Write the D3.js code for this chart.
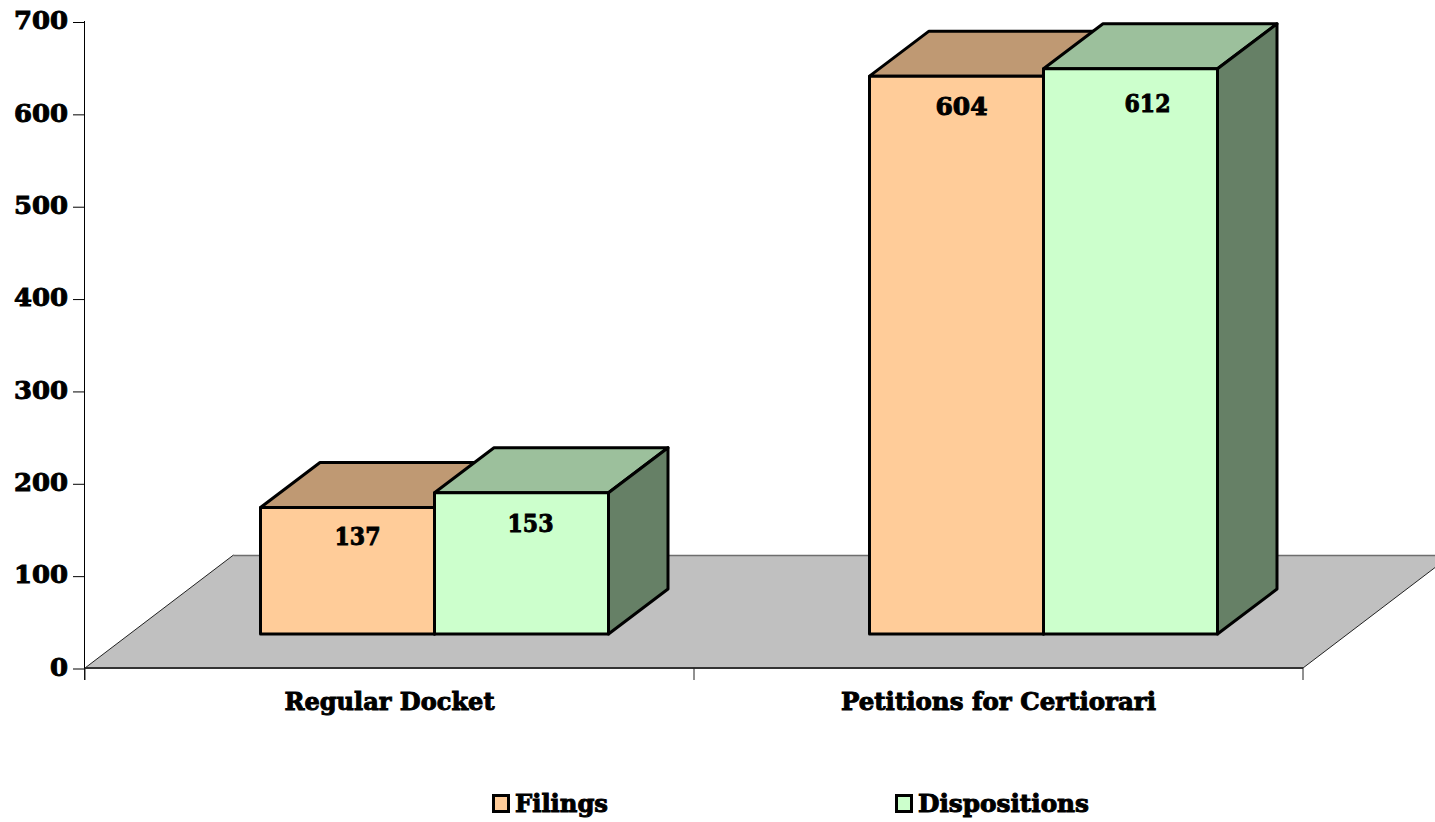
<!DOCTYPE html>
<html><head><meta charset="utf-8">
<script src="https://cdn.jsdelivr.net/npm/d3@7/dist/d3.min.js"></script>
<style>html,body{margin:0;padding:0;background:#fff;overflow:hidden}svg{display:block}
text{font-family:"DejaVu Serif",serif;font-weight:700;fill:#000;stroke:#000;stroke-width:0.95px;paint-order:stroke}</style></head>
<body><svg id="c" width="1435" height="822"></svg>
<script>
const categories = ["Regular Docket", "Petitions for Certiorari"];
const seriesNames = ["Filings", "Dispositions"];
const filings = [137, 604];
const dispositions = [153, 612];
const yTicks = [0, 100, 200, 300, 400, 500, 600, 700];
const seriesValues = [filings, dispositions];
const faceColors = ["#FFCC99", "#CCFFCC"];
const topColors = ["#BF9973", "#9CC09C"];
const sideColors = ["#BF9973", "#668066"];

const svg = d3.select("#c");
const y = d3.scaleLinear().domain([0, 700]).range([668.5, 22]);
const x0 = d3.scaleBand().domain(categories).range([85, 1303]);
const barW = 174;
const x1 = d3.scaleBand().domain([0, 1]).range([-barW, barW]);
const floorDX = 148.5, floorDY = 113;
const frontDX = 45, frontDY = 34.5;
const depthDX = 59.5, depthDY = 45;
const line = d3.line();

// floor
svg.append("path").attr("d", line([[85,668],[85+floorDX,668-floorDY],[1303+floorDX,668-floorDY],[1303,668]])+"Z").attr("fill","#C0C0C0");
svg.append("line").attr("x1",85+floorDX).attr("y1",555.5).attr("x2",1435).attr("y2",555.5).attr("stroke","#6e6e6e").attr("stroke-width",1.5);
[85,1303].forEach(px=>svg.append("line").attr("x1",px).attr("y1",668).attr("x2",px+floorDX).attr("y2",668-floorDY).attr("stroke","#222").attr("stroke-width",1));

// axes
const yAxis = d3.axisLeft(y).tickValues(yTicks).tickSize(12).tickPadding(4).tickFormat(d3.format("d"));
const gy = svg.append("g").attr("transform","translate(85,0)").call(yAxis);
gy.select(".domain").attr("d","M-0.5,21V680").attr("stroke","#000");
gy.selectAll(".tick line").attr("stroke","#000");
gy.selectAll(".tick text").attr("font-size",24).attr("dy","0.28em").attr("x",-17).attr("textLength",54).attr("lengthAdjust","spacingAndGlyphs")
  .each(function(d){ if(d===0) d3.select(this).attr("textLength",18); });

svg.append("line").attr("x1",85).attr("x2",1303).attr("y1",668).attr("y2",668).attr("stroke","#333").attr("stroke-width",2);
[85,694,1303].forEach(px=>svg.append("line").attr("x1",px).attr("x2",px).attr("y1",668).attr("y2",680).attr("stroke","#222"));
const catWidths = [210, 315];
categories.forEach((c,i)=>svg.append("text").attr("x",x0(c)+x0.bandwidth()/2).attr("y",710).attr("text-anchor","middle").attr("font-size",24)
  .attr("textLength",catWidths[i]).attr("lengthAdjust","spacingAndGlyphs").text(c));

// bars
const labelNudge = [[[10,28.5],[9,30.5]],[[5,30.5],[17,34.5]]];
categories.forEach((c,ci)=>{
  seriesNames.forEach((s,si)=>{
    const v = seriesValues[si][ci];
    const l = x0(c)+x0.bandwidth()/2+frontDX+x1(si), r = l+barW;
    const b = y(0)-frontDY, t = y(v)-frontDY;
    const g = svg.append("g").attr("stroke","#000").attr("stroke-width",3).attr("stroke-linejoin","round");
    g.append("path").attr("fill",topColors[si]).attr("d",line([[l,t],[l+depthDX,t-depthDY],[r+depthDX,t-depthDY],[r,t]])+"Z");
    g.append("path").attr("fill",sideColors[si]).attr("d",line([[r,t],[r+depthDX,t-depthDY],[r+depthDX,b-depthDY],[r,b]])+"Z");
    g.append("rect").attr("x",l).attr("y",t).attr("width",barW).attr("height",b-t).attr("fill",faceColors[si]);
  });
});
categories.forEach((c,ci)=>seriesNames.forEach((s,si)=>{
  const v = seriesValues[si][ci];
  const l = x0(c)+x0.bandwidth()/2+frontDX+x1(si);
  const t = y(v)-frontDY;
  const widths = [[46,46],[52,46]];
  svg.append("text").attr("x",l+barW/2+labelNudge[ci][si][0]).attr("y",t+labelNudge[ci][si][1]).attr("dy","0.36em").attr("text-anchor","middle")
    .attr("font-size",24).attr("textLength",widths[ci][si]).attr("lengthAdjust","spacingAndGlyphs").text(v);
}));

// legend
const legendX = [492, 895], legendTextW = [93, 171];
seriesNames.forEach((s,i)=>{
  svg.append("rect").attr("x",legendX[i]+1.5).attr("y",795.5).attr("width",15).attr("height",16).attr("fill",faceColors[i]).attr("stroke","#000").attr("stroke-width",3);
  svg.append("text").attr("x",legendX[i]+23).attr("y",812).attr("font-size",24).attr("textLength",legendTextW[i]).attr("lengthAdjust","spacingAndGlyphs").text(s);
});
</script></body></html>
